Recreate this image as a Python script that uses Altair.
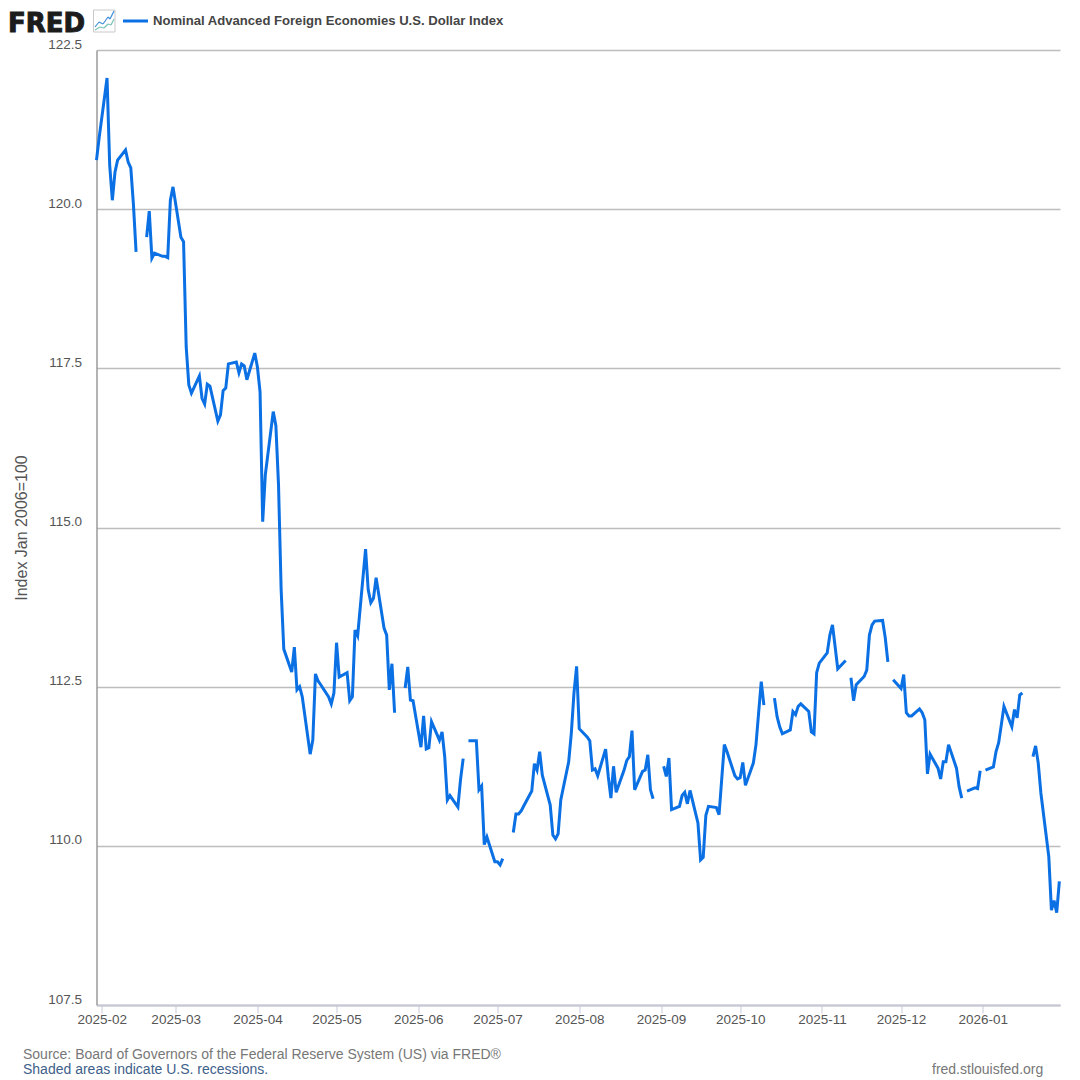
import altair as alt
import pandas as pd

START = "2025-01-30"
END = "2026-01-30"

# One value per weekday, Jan 30 2025 to Jan 30 2026; None = no published value
index_values = [
    120.77, 121.12,
    122.06, 120.69, 120.14, 120.58, 120.77,
    120.93, 120.74, 120.65, 120.07, 119.33,
    None, 119.56, 119.97, 119.23, 119.31,
    119.26, 119.26, 119.24, 120.14, 120.35,
    119.56, 119.49, 117.84, 117.24, 117.11,
    117.38, 117.03, 116.94, 117.25, 117.22,
    116.67, 116.77, 117.15, 117.19, 117.57,
    117.60, 117.43, 117.57, 117.54, 117.32,
    117.74, 117.52, 117.13, 115.09, 115.83,
    116.82, 116.60, 115.67, 114.02, 113.09,
    112.73, 113.12, 112.45, 112.50, 112.34,
    111.44, 111.66, 112.70, 112.59, 112.53,
    112.34, 112.23, 112.40, 113.19, 112.65,
    112.72, 112.28, 112.34, 113.39, 113.30,
    114.66, 114.02, 113.82, 113.89, 114.21,
    113.42, 113.31, 112.45, 112.86, 112.09,
    None, 112.48, 112.81, 112.29, 112.28,
    111.55, 112.04, 111.52, 111.54, 111.95,
    111.66, 111.79, 111.40, 110.72, 110.79,
    110.61, 111.04, 111.37, None, 111.65,
    111.65, 110.88, 110.94, 110.02, 110.14,
    109.75, 109.75, 109.70, 109.80, None,
    110.21, 110.50, 110.50, 110.55, 110.63,
    110.86, 111.29, 111.19, 111.48, 111.11,
    110.64, 110.17, 110.11, 110.19, 110.72,
    111.32, 111.77, 112.40, 112.82, 111.84,
    111.71, 111.65, 111.19, 111.21, 111.10,
    111.52, 111.09, 110.75, 111.25, 110.84,
    111.19, 111.34, 111.40, 111.81, 110.88,
    111.17, 111.19, 111.43, 110.88, 110.74,
    None, 111.25, 111.09, 111.38, 110.57,
    110.62, 110.79, 110.84, 110.66, 110.87,
    110.36, 109.78, 109.82, 110.48, 110.62,
    110.60, 110.49, 111.04, 111.59, 111.48,
    111.10, 111.05, 111.07, 111.31, 110.95,
    111.30, 111.59, 112.09, 112.58, 112.21,
    None, 112.32, 112.03, 111.87, 111.76,
    111.82, 112.11, 112.06, 112.19, 112.23,
    112.11, 111.79, 111.76, 112.72, 112.87,
    113.03, 113.31, 113.47, 113.13, 112.78,
    112.91, None, 112.64, 112.28, 112.53,
    112.66, 112.76, 113.31, 113.47, 113.53,
    113.54, 113.27, 112.89, None, 112.61,
    112.47, 112.69, 112.09, 112.04, 112.04,
    112.15, 112.09, 111.98, 111.13, 111.44,
    111.22, 111.05, 111.32, 111.32, 111.59,
    111.22, 110.93, 110.75, None, 110.86,
    110.91, 110.90, 111.18, None, 111.19,
    111.24, 111.48, 111.62, 111.90, 112.19,
    111.87, 112.14, 112.01, 112.37, 112.40,
    None, 111.40, 111.57, 111.30, 110.83,
    109.83, 108.99, 109.14, 108.95, 109.44,
]
y_ticks = [107.5, 110.0, 112.5, 115.0, 117.5, 120.0, 122.5]

series_title = "Nominal Advanced Foreign Economies U.S. Dollar Index"
y_title = "Index Jan 2006=100"
source_text = "Source: Board of Governors of the Federal Reserve System (US) via FRED\u00ae"
shaded_text = "Shaded areas indicate U.S. recessions."
site_text = "fred.stlouisfed.org"

BLUE = "#0a70e4"
FONT = "Liberation Sans"
W, H = 963.5, 955
LEFT, TOP = 88.5, 42  # padding; page margin adds 8
OX, OY = LEFT + 8, TOP + 8

dates = pd.bdate_range(START, END)
assert len(dates) == len(index_values), (len(dates), len(index_values))
df = pd.DataFrame({"date": dates.strftime("%Y-%m-%dT00:00:00"), "value": index_values})

line = (
    alt.Chart(df)
    .mark_line(color=BLUE, strokeWidth=3, clip=False)
    .encode(
        x=alt.X(
            "date:T",
            title=None,
            scale=alt.Scale(domain=[START + "T00:00:00", "2026-01-30T06:00:00"]),
            axis=alt.Axis(
                format="%Y-%m",
                tickCount="month",
                labelOverlap=False,
                grid=False,
                labelFont=FONT,
                labelFontSize=13.5,
                labelColor="#555555",
                labelPadding=-1,
                tickColor="#c8cbd8",
                tickSize=8,
                tickWidth=1,
                domainColor="#c4c6d4",
                domainWidth=2,
                labelFlush=False,
            ),
        ),
        y=alt.Y(
            "value:Q",
            title=y_title,
            scale=alt.Scale(domain=[107.5, 122.5], nice=False, zero=False),
            axis=alt.Axis(
                values=y_ticks,
                format=".1f",
                grid=True,
                gridColor="#bdbdbd",
                gridWidth=1.6,
                ticks=False,
                labelFont=FONT,
                labelFontSize=13.5,
                labelColor="#555555",
                labelOffset=-6,
                labelPadding=15,
                domainColor="#9a9a9a",
                domainWidth=1.5,
                titleFont=FONT,
                titleFontSize=16,
                titleFontWeight="normal",
                titleColor="#555555",
                titlePadding=18,
            ),
        ),
    )
)


def label(text, px, py, **kw):
    kw.setdefault("font", FONT)
    kw.setdefault("align", "left")
    kw.setdefault("baseline", "middle")
    return (
        alt.Chart(pd.DataFrame({"t": [text]}))
        .mark_text(**kw)
        .encode(text="t:N", x=alt.value(px - OX), y=alt.value(py - OY))
    )


def segment(x1, y1, x2, y2, color, width):
    return (
        alt.Chart(pd.DataFrame({"t": [0]}))
        .mark_rule(color=color, strokeWidth=width)
        .encode(
            x=alt.value(x1 - OX), x2=alt.value(x2 - OX),
            y=alt.value(y1 - OY), y2=alt.value(y2 - OY),
        )
    )


icon_blue = [(95, 27), (99, 22), (103, 24), (108, 17), (110, 19), (114, 11)]
icon_green = [(95, 30), (100, 27), (104, 28), (108, 24), (111, 25), (114, 19)]
box = [(93.5, 10), (115, 10), (115, 32), (93.5, 32), (93.5, 10)]

layers = [line]
layers.append(label("FRED", 8, 32.3, fontSize=26, fontWeight="bold", baseline="alphabetic",
                    font="DejaVu Sans", color="#1c1c1c", stroke="#1c1c1c", strokeWidth=1))
layers += [segment(*a, *b, "#c9c9c9", 1) for a, b in zip(box, box[1:])]
layers += [segment(*a, *b, "#7cc4b8", 1.2) for a, b in zip(icon_green, icon_green[1:])]
layers += [segment(*a, *b, "#3f8fd8", 1.2) for a, b in zip(icon_blue, icon_blue[1:])]
layers.append(segment(123, 21, 148, 21, BLUE, 3))
layers.append(label(series_title, 153, 21, fontSize=13.1, fontWeight="bold", color="#444444"))
layers.append(label(source_text, 23, 1055, fontSize=14, color="#777777"))
layers.append(label(shaded_text, 23, 1070, fontSize=14, color="#3e6089"))
layers.append(label(site_text, 932, 1070, fontSize=14, color="#777777"))

chart = (
    alt.layer(*layers)
    .properties(
        width=W,
        height=H,
        autosize=alt.AutoSizeParams(type="none"),
        padding={"left": LEFT, "top": TOP, "right": 10, "bottom": 72},
        background="white",
    )
    .configure_view(stroke=None)
)
chart.save("out.html", embed_options={"renderer": "svg", "actions": False})
